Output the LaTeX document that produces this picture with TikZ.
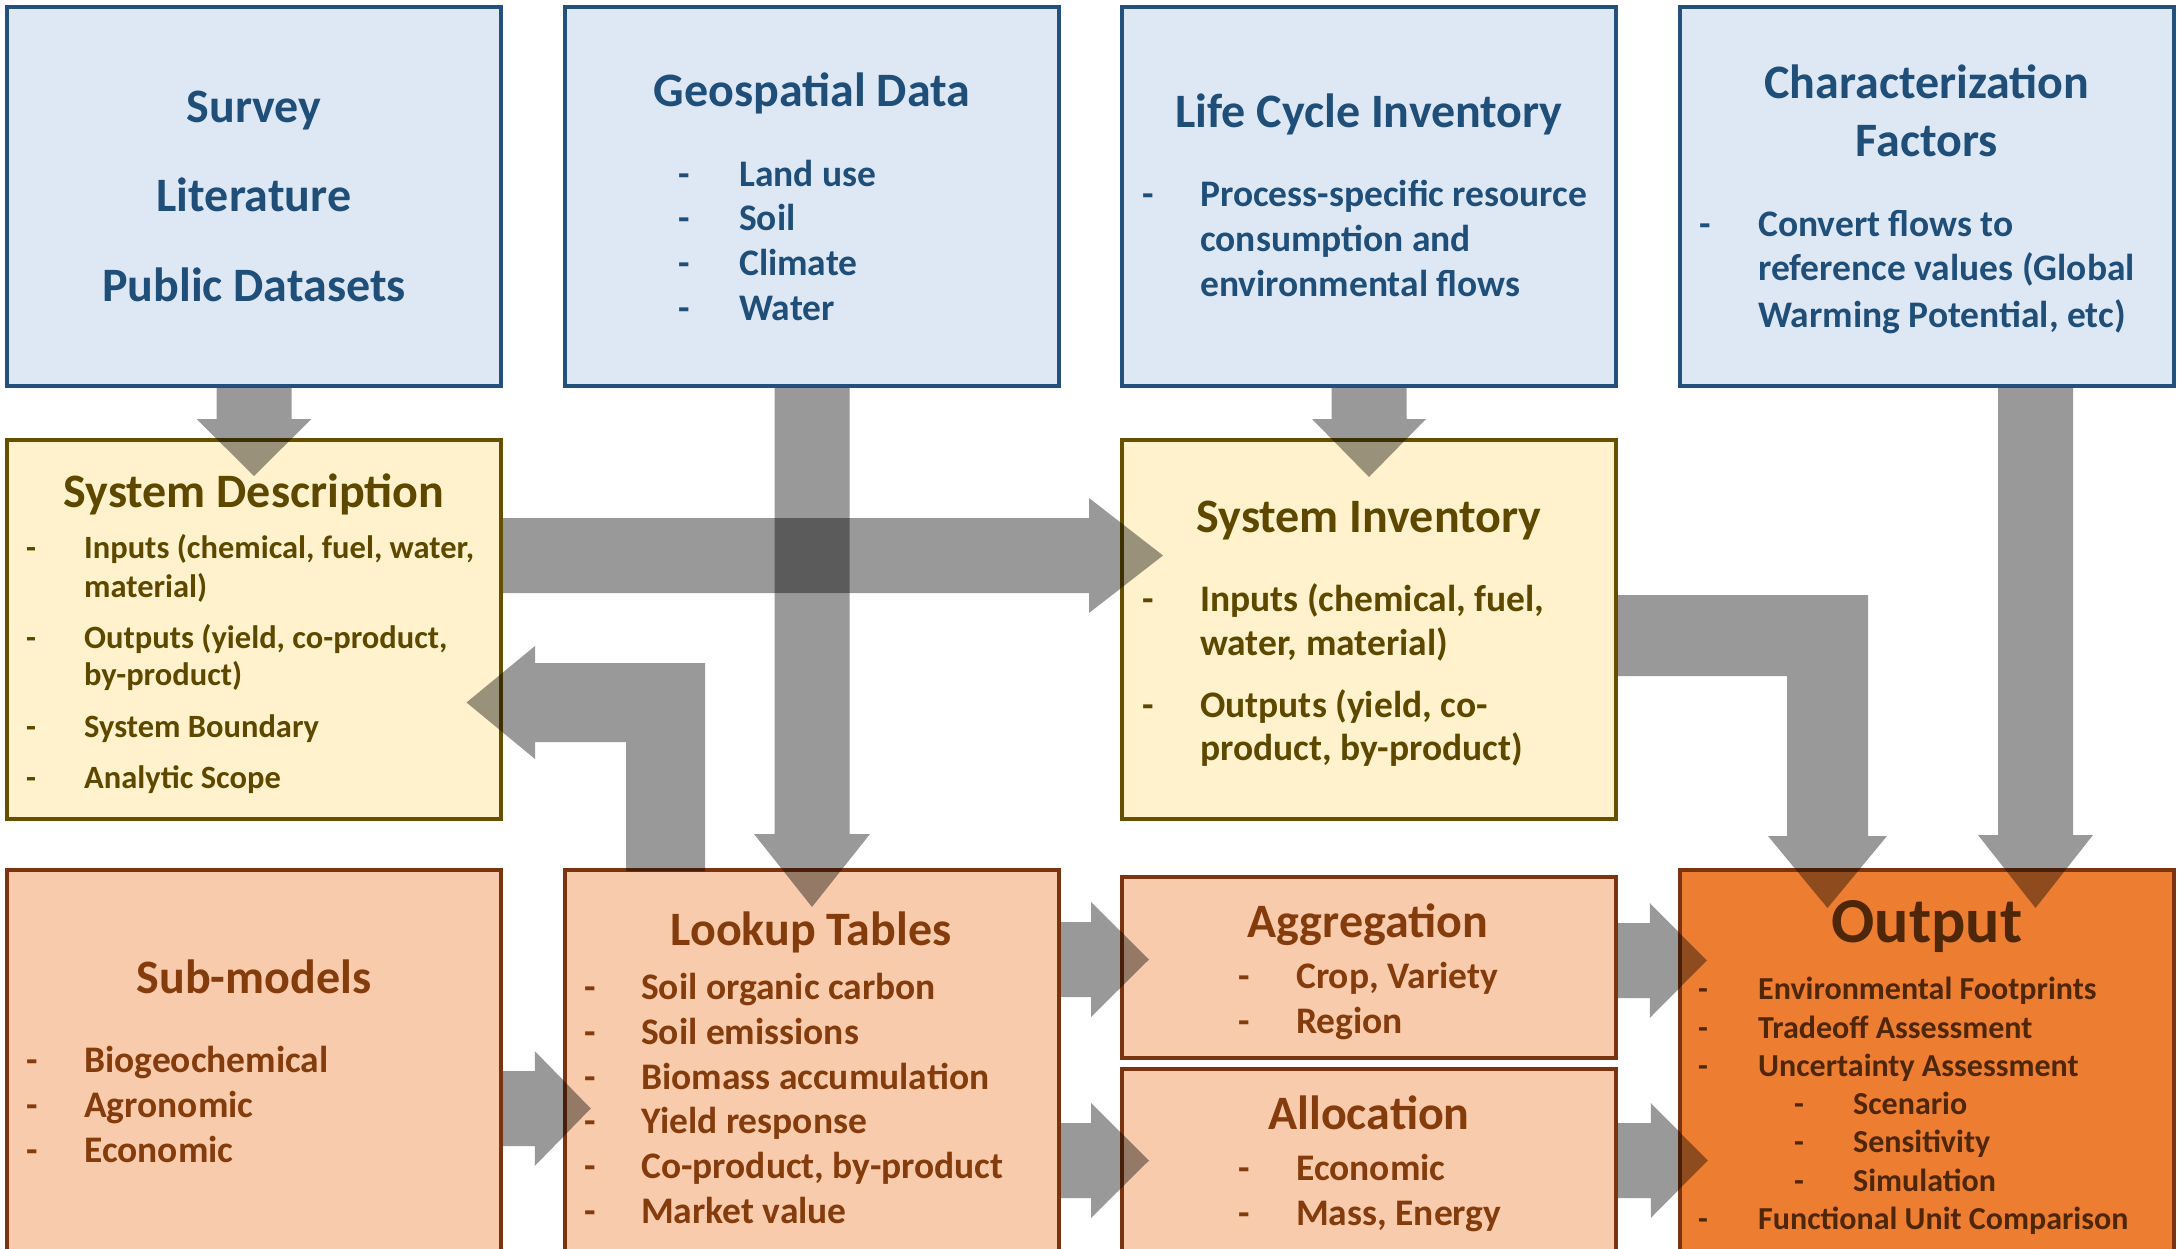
\documentclass[tikz,border=0pt]{standalone}
\usepackage{fontspec}
\setmainfont{Carlito}
\usetikzlibrary{calc}
\definecolor{bfill}{HTML}{DEE8F4}
\definecolor{bline}{HTML}{24507E}
\definecolor{btext}{HTML}{1F4E79}
\definecolor{yfill}{HTML}{FFF2CC}
\definecolor{yline}{HTML}{665000}
\definecolor{ytext}{HTML}{5E4800}
\definecolor{ofill}{HTML}{F8CBAD}
\definecolor{oline}{HTML}{7A3510}
\definecolor{otext}{HTML}{843C0C}
\definecolor{dfill}{HTML}{ED7D31}
\definecolor{dtext}{HTML}{4E2608}
\begin{document}
\begin{tikzpicture}[x=1pt,y=-1pt,
  box/.style={draw, line width=3.5pt, inner sep=0pt, minimum width=494pt},
  bluebox/.style={box, fill=bfill, draw=bline, minimum height=379pt},
  yelbox/.style={box, fill=yfill, draw=yline, minimum height=379pt},
  orbox/.style={box, fill=ofill, draw=oline},
  outbox/.style={box, fill=dfill, draw=oline},
  blk/.style={fill=black, fill opacity=0.4},
  ttl/.style={anchor=base, inner sep=0pt, font=\fontsize{48}{54}\selectfont\bfseries},
  itm/.style={anchor=base west, inner sep=0pt, font=\fontsize{37.5}{42}\selectfont\bfseries},
  itms/.style={anchor=base west, inner sep=0pt, font=\fontsize{32.5}{38}\selectfont\bfseries},
  itmo/.style={anchor=base west, inner sep=0pt, font=\fontsize{32}{37}\selectfont\bfseries}]
\useasboundingbox (0,0) rectangle (2177,1249);
\begin{scope}
\clip (0,0) rectangle (2177,1249);
\fill[white] (0,0) rectangle (2177,1249);
% boxes
\node[bluebox] (A) at (254,196.5) {};
\node[bluebox] (B) at (812,196.5) {};
\node[bluebox] (C) at (1369,196.5) {};
\node[bluebox] (D) at (1927,196.5) {};
\node[yelbox] (SD) at (254,629.5) {};
\node[yelbox] (SI) at (1369,629.5) {};
\node[orbox, minimum height=400pt] (SM) at (254,1070) {};
\node[orbox, minimum height=400pt] (LT) at (812,1070) {};
\node[orbox, minimum height=181pt] (AG) at (1369,967.5) {};
\node[orbox, minimum height=201pt] (AL) at (1369,1169.5) {};
\node[outbox, minimum height=400pt] (OUT) at (1927,1070) {};

% texts: blue boxes
\begin{scope}[text=btext]
\node[ttl] (tA1) at (254,123) {Survey};
\node[ttl] (tA2) at (254,212) {Literature};
\node[ttl] (tA3) at (254,302) {Public Datasets};
\node[ttl] (tB) at (812,107) {Geospatial Data};
\foreach \y/\t [count=\i] in {187/{Land use},231/{Soil},276/{Climate},321/{Water}}{
  \node[itm] (dB\i) at (678,\y) {-};
  \node[itm] (iB\i) at (739,\y) {\t};}
\node[ttl] (tC) at (1369,128) {Life Cycle Inventory};
\node[itm] (dC1) at (1142,207) {-};
\foreach \y/\t [count=\i] in {207/{Process-specific resource},252/{consumption and},297/{environmental flows}}{
  \node[itm] (iC\i) at (1200,\y) {\t};}
\node[ttl] (tD1) at (1927,99) {Characterization};
\node[ttl] (tD2) at (1927,157) {Factors};
\node[itm] (dD1) at (1699,237) {-};
\foreach \y/\t [count=\i] in {237/{Convert flows to},281/{reference values (Global},327/{Warming Potential, etc)}}{
  \node[itm] (iD\i) at (1758,\y) {\t};}
\end{scope}

% yellow boxes
\begin{scope}[text=ytext]
\node[ttl] (tSD) at (254,507) {System Description};
\foreach \y [count=\i] in {558,648,737,788}{
  \node[itms] (dSD\i) at (26,\y) {-};}
\foreach \y/\t [count=\i] in {558/{Inputs (chemical, fuel, water,},597/{material)},648/{Outputs (yield, co-product,},685/{by-product)},737/{System Boundary},788/{Analytic Scope}}{
  \node[itms] (iSD\i) at (84,\y) {\t};}
\node[ttl] (tSI) at (1369,532) {System Inventory};
\foreach \y [count=\i] in {611,717}{
  \node[itm] (dSI\i) at (1142,\y) {-};}
\foreach \y/\t [count=\i] in {611/{Inputs (chemical, fuel,},655/{water, material)},717/{Outputs (yield, co-},760/{product, by-product)}}{
  \node[itm] (iSI\i) at (1200,\y) {\t};}
\end{scope}

% orange boxes
\begin{scope}[text=otext]
\node[ttl] (tSM) at (254,993) {Sub-models};
\foreach \y/\t [count=\i] in {1072/{Biogeochemical},1117/{Agronomic},1162/{Economic}}{
  \node[itm] (dSM\i) at (26,\y) {-};
  \node[itm] (iSM\i) at (84,\y) {\t};}
\node[ttl] (tLT) at (811,945) {Lookup Tables};
\foreach \y/\t [count=\i] in {999/{Soil organic carbon},1044/{Soil emissions},1089/{Biomass accumulation},1133/{Yield response},1178/{Co-product, by-product},1223/{Market value}}{
  \node[itm] (dLT\i) at (584,\y) {-};
  \node[itm] (iLT\i) at (641,\y) {\t};}
\node[ttl] (tAG) at (1368,937) {Aggregation};
\foreach \y/\t [count=\i] in {988/{Crop, Variety},1033/{Region}}{
  \node[itm] (dAG\i) at (1238,\y) {-};
  \node[itm] (iAG\i) at (1296,\y) {\t};}
\node[ttl] (tAL) at (1369,1129) {Allocation};
\foreach \y/\t [count=\i] in {1180/{Economic},1225/{Mass, Energy}}{
  \node[itm] (dAL\i) at (1238,\y) {-};
  \node[itm] (iAL\i) at (1296,\y) {\t};}
\end{scope}

% output box
\begin{scope}[text=dtext]
\node[ttl, font=\fontsize{64}{70}\selectfont\bfseries] (tOUT) at (1927,942) {Output};
\foreach \y/\t [count=\i] in {999/{Environmental Footprints},1038/{Tradeoff Assessment},1076/{Uncertainty Assessment},1229/{Functional Unit Comparison}}{
  \node[itmo] (dO\i) at (1698,\y) {-};
  \node[itmo] (iO\i) at (1758,\y) {\t};}
\foreach \y/\t [count=\i] in {1114/{Scenario},1152/{Sensitivity},1191/{Simulation}}{
  \node[itmo] (dOs\i) at (1794,\y) {-};
  \node[itmo] (iOs\i) at (1853,\y) {\t};}
\end{scope}

% block arrows
\fill[blk] ($(A.south)+(-37.5,0)$) -- ++(0,31.25) -- ++(-20,0) -- ++(57.5,57) -- ++(57.5,-57) -- ++(-20,0) -- ++(0,-31.25) -- cycle;
\fill[blk] ($(B.south)+(-37.5,0)$) -- ++(0,446.25) -- ++(-20.5,0) -- ++(58,73) -- ++(58,-73) -- ++(-20.5,0) -- ++(0,-446.25) -- cycle;
\fill[blk] ($(C.south)+(-37.5,0)$) -- ++(0,31.25) -- ++(-19.5,0) -- ++(57,58) -- ++(57,-58) -- ++(-19.5,0) -- ++(0,-31.25) -- cycle;
\fill[blk] ($(D.south)+(71,0)$) -- ++(0,447.25) -- ++(-20,0) -- ++(57.5,73) -- ++(57.5,-73) -- ++(-20,0) -- ++(0,-447.25) -- cycle;
\fill[blk] ($(SD.east)+(0,-111.5)$) -- ++(586.25,0) -- ++(0,-20) -- ++(74,57.5) -- ++(-74,57.5) -- ++(0,-20) -- ++(-586.25,0) -- cycle;
\fill[blk] ($(LT.north)+(-186,3)$) -- ++(79,0) -- ++(0,-208.25) -- ++(-170,0) -- ++(0,-17) -- ++(-68.5,56.5) -- ++(68.5,56.5) -- ++(0,-17) -- ++(91,0) -- cycle;
\fill[blk] ($(SM.north east)+(0,202.75)$) -- ++(32,0) -- ++(0,-20) -- ++(56,57.5) -- ++(-56,57.5) -- ++(0,-20) -- ++(-32,0) -- cycle;
\fill[blk] ($(LT.north east)+(0,53.75)$) -- ++(30.25,0) -- ++(0,-20) -- ++(58,57.5) -- ++(-58,57.5) -- ++(0,-20) -- ++(-30.25,0) -- cycle;
\fill[blk] ($(LT.north east)+(0,254.75)$) -- ++(30.25,0) -- ++(0,-20) -- ++(58,57.5) -- ++(-58,57.5) -- ++(0,-20) -- ++(-30.25,0) -- cycle;
\fill[blk] ($(AG.north east)+(0,47.75)$) -- ++(32,0) -- ++(0,-20) -- ++(57,57.5) -- ++(-57,57.5) -- ++(0,-20) -- ++(-32,0) -- cycle;
\fill[blk] ($(AL.north east)+(0,55.75)$) -- ++(33,0) -- ++(0,-20) -- ++(57,57.5) -- ++(-57,57.5) -- ++(0,-20) -- ++(-33,0) -- cycle;
\fill[blk] ($(SI.north east)+(0,156.75)$) -- ++(250.25,0) -- ++(0,241) -- ++(19,0) -- ++(-59.5,72) -- ++(-59.5,-72) -- ++(19,0) -- ++(0,-160) -- ++(-169.25,0) -- cycle;
\end{scope}
\end{tikzpicture}
\end{document}
